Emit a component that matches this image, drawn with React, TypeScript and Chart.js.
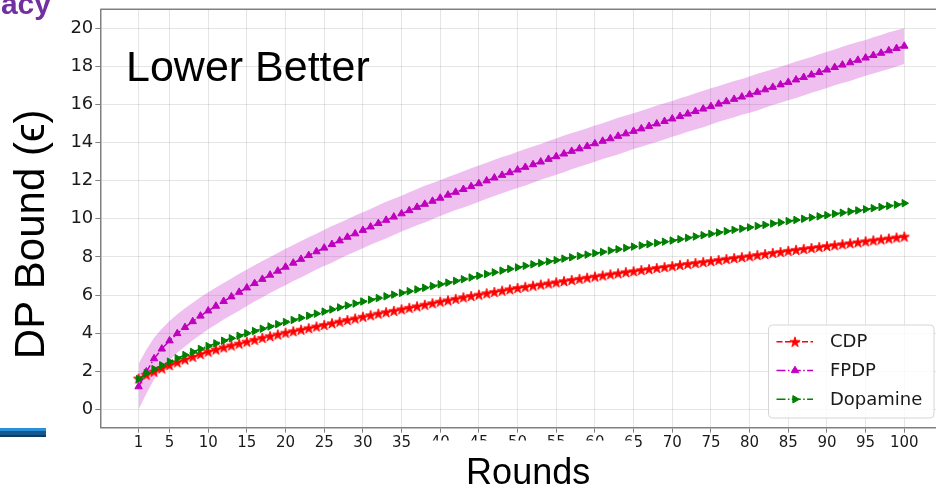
import React, { useEffect, useRef } from 'react';
import { Chart, registerables } from 'chart.js';
import { drawPoint } from 'chart.js/helpers';

Chart.register(...registerables);

// ---------- data ----------
const rounds: number[] = Array.from({ length: 100 }, (_, i) => i + 1);

const xTickValues = [1, 5, 10, 15, 20, 25, 30, 35, 40, 45, 50, 55, 60, 65, 70, 75, 80, 85, 90, 95, 100];
const yTickValues = [0, 2, 4, 6, 8, 10, 12, 14, 16, 18, 20];

const cdp = [
  1.62, 1.82, 1.98, 2.15, 2.32, 2.47, 2.62, 2.76, 2.90, 3.03,
  3.14, 3.25, 3.35, 3.45, 3.55, 3.65, 3.75, 3.84, 3.93, 4.02,
  4.10, 4.18, 4.26, 4.35, 4.43, 4.52, 4.60, 4.69, 4.77, 4.86,
  4.94, 5.02, 5.10, 5.17, 5.25, 5.33, 5.41, 5.49, 5.57, 5.65,
  5.72, 5.80, 5.88, 5.95, 6.02, 6.09, 6.16, 6.23, 6.30, 6.37,
  6.43, 6.49, 6.55, 6.61, 6.67, 6.73, 6.79, 6.85, 6.91, 6.97,
  7.03, 7.09, 7.14, 7.20, 7.25, 7.31, 7.36, 7.42, 7.47, 7.52,
  7.58, 7.63, 7.68, 7.73, 7.78, 7.84, 7.89, 7.94, 7.99, 8.04,
  8.10, 8.15, 8.21, 8.26, 8.32, 8.37, 8.42, 8.47, 8.52, 8.57,
  8.62, 8.67, 8.72, 8.77, 8.82, 8.87, 8.92, 8.97, 9.02, 9.07,
];

const fpdp = [
  1.19, 1.97, 2.66, 3.17, 3.60, 3.98, 4.30, 4.61, 4.90, 5.17,
  5.42, 5.67, 5.91, 6.15, 6.38, 6.61, 6.83, 7.05, 7.26, 7.47,
  7.68, 7.88, 8.08, 8.28, 8.47, 8.66, 8.85, 9.04, 9.22, 9.40,
  9.58, 9.76, 9.93, 10.10, 10.27, 10.44, 10.61, 10.77, 10.93, 11.09,
  11.25, 11.40, 11.55, 11.70, 11.85, 12.00, 12.15, 12.29, 12.43, 12.57,
  12.71, 12.85, 12.99, 13.13, 13.27, 13.41, 13.55, 13.68, 13.81, 13.95,
  14.08, 14.21, 14.34, 14.47, 14.60, 14.73, 14.86, 14.99, 15.12, 15.25,
  15.38, 15.51, 15.64, 15.77, 15.90, 16.03, 16.16, 16.28, 16.40, 16.52,
  16.65, 16.78, 16.91, 17.04, 17.17, 17.30, 17.43, 17.56, 17.69, 17.82,
  17.95, 18.08, 18.20, 18.33, 18.45, 18.58, 18.70, 18.83, 18.95, 19.07,
];

const fpdpStd = [
  1.20, 1.15, 1.10, 1.06, 1.03, 1.01, 1.00, 0.99, 0.98, 0.97,
  0.97, 0.96, 0.96, 0.97, 0.96, 0.95, 0.96, 0.95, 0.95, 0.96,
  0.95, 0.96, 0.95, 0.94, 0.95, 0.96, 0.95, 0.94, 0.95, 0.95,
  0.94, 0.95, 0.96, 0.95, 0.94, 0.95, 0.95, 0.96, 0.95, 0.94,
  0.95, 0.94, 0.95, 0.96, 0.95, 0.94, 0.95, 0.95, 0.94, 0.95,
  0.96, 0.95, 0.94, 0.95, 0.95, 0.96, 0.95, 0.94, 0.95, 0.95,
  0.94, 0.95, 0.96, 0.95, 0.94, 0.95, 0.95, 0.96, 0.95, 0.94,
  0.95, 0.94, 0.95, 0.96, 0.95, 0.94, 0.95, 0.95, 0.94, 0.95,
  0.96, 0.95, 0.94, 0.95, 0.95, 0.96, 0.95, 0.94, 0.95, 0.95,
  0.94, 0.95, 0.96, 0.95, 0.94, 0.95, 0.95, 0.96, 0.95, 0.94,
];

const dopamine = [
  1.59, 1.90, 2.11, 2.31, 2.50, 2.68, 2.85, 3.01, 3.17, 3.32,
  3.46, 3.60, 3.73, 3.86, 3.99, 4.11, 4.23, 4.35, 4.47, 4.58,
  4.69, 4.80, 4.91, 5.02, 5.13, 5.24, 5.35, 5.45, 5.55, 5.66,
  5.75, 5.84, 5.93, 6.02, 6.11, 6.20, 6.29, 6.38, 6.47, 6.56,
  6.65, 6.74, 6.83, 6.92, 7.01, 7.10, 7.19, 7.28, 7.37, 7.45,
  7.53, 7.61, 7.68, 7.76, 7.83, 7.91, 7.98, 8.05, 8.12, 8.19,
  8.26, 8.33, 8.40, 8.47, 8.54, 8.60, 8.67, 8.73, 8.80, 8.86,
  8.93, 9.00, 9.07, 9.14, 9.21, 9.28, 9.35, 9.42, 9.48, 9.55,
  9.62, 9.68, 9.75, 9.81, 9.88, 9.94, 10.00, 10.07, 10.13, 10.19,
  10.26, 10.32, 10.38, 10.44, 10.50, 10.56, 10.62, 10.68, 10.74, 10.82,
];

const RED = '#ff0000';
const MAGENTA = '#bf00bf';
const GREEN = '#008000';

function makeStar(color: string, outer: number): HTMLCanvasElement {
  const inner = outer * 0.382;
  const size = Math.ceil(outer * 2 + 3);
  const c = document.createElement('canvas');
  c.width = size;
  c.height = size;
  const g = c.getContext('2d')!;
  g.fillStyle = color;
  g.strokeStyle = color;
  g.lineWidth = 0.9;
  g.beginPath();
  const cx = size / 2;
  const cy = size / 2 + outer * 0.1;
  for (let k = 0; k < 10; k++) {
    const a = -Math.PI / 2 + (k * Math.PI) / 5;
    const r = k % 2 === 0 ? outer : inner;
    g.lineTo(cx + r * Math.cos(a), cy + r * Math.sin(a));
  }
  g.closePath();
  g.fill();
  g.stroke();
  return c;
}

const frameAndTextPlugin = {
  id: 'frameAndText',
  afterDraw(chart: any) {
    const { ctx, chartArea } = chart;
    ctx.save();
    // top spine
    ctx.strokeStyle = '#808080';
    ctx.lineWidth = 1.5;
    ctx.beginPath();
    ctx.moveTo(chartArea.left, chartArea.top);
    ctx.lineTo(chartArea.right, chartArea.top);
    ctx.stroke();

    // white text box of the x title, which hides the lower part of some tick labels
    ctx.fillStyle = '#ffffff';
    ctx.fillRect(428, 440.5, 208, 52);
    chart.scales.x.drawTitle();

    // annotation
    ctx.fillStyle = '#000';
    ctx.font = '43px "Liberation Sans", Arial, sans-serif';
    ctx.textBaseline = 'alphabetic';
    ctx.textAlign = 'left';
    ctx.fillText('Lower Better', 126, 80.5);

    // legend
    const items = chart.data.datasets.filter((d: any) => d.showInLegend);
    const bx = 768.5, by = 325, bw = 165.5, bh = 93;
    ctx.beginPath();
    const r = 4;
    ctx.moveTo(bx + r, by);
    ctx.lineTo(bx + bw - r, by);
    ctx.quadraticCurveTo(bx + bw, by, bx + bw, by + r);
    ctx.lineTo(bx + bw, by + bh - r);
    ctx.quadraticCurveTo(bx + bw, by + bh, bx + bw - r, by + bh);
    ctx.lineTo(bx + r, by + bh);
    ctx.quadraticCurveTo(bx, by + bh, bx, by + bh - r);
    ctx.lineTo(bx, by + r);
    ctx.quadraticCurveTo(bx, by, bx + r, by);
    ctx.closePath();
    ctx.fillStyle = 'rgba(255,255,255,0.8)';
    ctx.fill();
    ctx.strokeStyle = '#d6d6d6';
    ctx.lineWidth = 1;
    ctx.stroke();

    items.forEach((d: any, i: number) => {
      const y = 341.7 + i * 28.8;
      ctx.save();
      ctx.strokeStyle = d.borderColor;
      ctx.lineWidth = d.borderWidth;
      ctx.setLineDash(d.borderDash || []);
      ctx.beginPath();
      ctx.moveTo(776.5, y);
      ctx.lineTo(813, y);
      ctx.stroke();
      ctx.setLineDash([]);
      ctx.fillStyle = d.pointBackgroundColor;
      ctx.strokeStyle = d.pointBorderColor;
      ctx.lineWidth = d.pointBorderWidth;
      drawPoint(ctx, {
        pointStyle: d.pointStyle,
        rotation: d.pointRotation || 0,
        radius: d.pointRadius,
        borderWidth: d.pointBorderWidth,
      }, 795, y);
      ctx.restore();
      ctx.fillStyle = '#1a1a1a';
      ctx.font = '18px "DejaVu Sans", sans-serif';
      ctx.textBaseline = 'middle';
      ctx.textAlign = 'left';
      ctx.fillText(d.label, 830, y + 1);
    });
    ctx.restore();
  },
};

export default function App() {
  const ref = useRef<HTMLCanvasElement>(null);

  useEffect(() => {
    const star = makeStar(RED, 5.4);
    const pts = (vals: number[]) => rounds.map((r, i) => ({ x: r, y: vals[i] }));
    const upper = rounds.map((r, i) => ({ x: r, y: fpdp[i] + fpdpStd[i] }));
    const lower = rounds.map((r, i) => ({ x: r, y: fpdp[i] - fpdpStd[i] }));

    const tickFont = { family: '"DejaVu Sans", sans-serif', size: 18 };

    const chart = new Chart(ref.current!, {
      type: 'line',
      data: {
        datasets: [
          {
            label: 'FPDP upper',
            data: upper,
            borderColor: 'rgba(0,0,0,0)',
            borderWidth: 0,
            pointRadius: 0,
            fill: false,
            order: 10,
          } as any,
          {
            label: 'FPDP lower',
            data: lower,
            borderColor: 'rgba(0,0,0,0)',
            borderWidth: 0,
            pointRadius: 0,
            backgroundColor: 'rgba(191,0,191,0.25)',
            fill: '-1',
            order: 9,
          },
          {
            label: 'CDP',
            showInLegend: true,
            data: pts(cdp),
            borderColor: RED,
            borderWidth: 1.5,
            borderDash: [6, 2.5],
            pointStyle: star,
            pointRadius: 5,
            pointBackgroundColor: RED,
            pointBorderColor: RED,
            pointBorderWidth: 1,
            fill: false,
            order: 3,
          },
          {
            label: 'FPDP',
            showInLegend: true,
            data: pts(fpdp),
            borderColor: MAGENTA,
            borderWidth: 1.5,
            borderDash: [9, 2.4, 1.5, 2.4],
            pointStyle: 'triangle',
            pointRadius: 4.3,
            pointBackgroundColor: MAGENTA,
            pointBorderColor: MAGENTA,
            pointBorderWidth: 1,
            fill: false,
            order: 2,
          },
          {
            label: 'Dopamine',
            showInLegend: true,
            data: pts(dopamine),
            borderColor: GREEN,
            borderWidth: 1.5,
            borderDash: [9, 2.4, 1.5, 2.4],
            pointStyle: 'triangle',
            pointRotation: 90,
            pointRadius: 4.3,
            pointBackgroundColor: GREEN,
            pointBorderColor: GREEN,
            pointBorderWidth: 1,
            fill: false,
            order: 1,
          },
        ] as any,
      },
      options: {
        animation: false,
        responsive: false,
        devicePixelRatio: 1,
        layout: { autoPadding: false, padding: { top: 9.3, right: 0, bottom: 0, left: 0 } },
        plugins: {
          legend: { display: false },
          tooltip: { enabled: false },
          title: { display: false },
        },
        scales: {
          x: {
            type: 'linear',
            min: -3.95,
            max: 104.1,
            afterBuildTicks: (s: any) => {
              s.ticks = xTickValues.map((v) => ({ value: v }));
            },
            afterFit: (s: any) => {
              s.height = 64.3;
              s.paddingLeft = 0;
              s.paddingRight = 0;
            },
            ticks: {
              autoSkip: false,
              maxRotation: 0,
              minRotation: 0,
              padding: 1,
              color: '#1a1a1a',
              font: { family: '"DejaVu Sans", sans-serif', size: 15 },
              callback: (v: any) => String(v),
            },
            grid: { color: 'rgba(0,0,0,0.1)', lineWidth: 1, tickLength: 5, tickColor: '#808080' },
            border: { display: true, color: '#808080', width: 1.5 },
            title: {
              display: true,
              text: '  Rounds',
              color: '#000',
              font: { family: '"Liberation Sans", Arial, sans-serif', size: 36, lineHeight: 1 },
              padding: { top: 0, bottom: 0 },
            },
          },
          y: {
            type: 'linear',
            min: -0.966,
            max: 21.0,
            afterBuildTicks: (s: any) => {
              s.ticks = yTickValues.map((v) => ({ value: v }));
            },
            afterFit: (s: any) => {
              s.width = 100.3;
              s.paddingTop = 0;
              s.paddingBottom = 0;
            },
            ticks: {
              padding: 2,
              color: '#1a1a1a',
              font: tickFont,
              callback: (v: any) => String(v),
            },
            grid: { color: 'rgba(0,0,0,0.1)', lineWidth: 1, tickLength: 5, tickColor: '#808080' },
            border: { display: true, color: '#808080', width: 1.5 },
            title: {
              display: true,
              text: 'DP Bound (\u03F5)  \u2009',
              color: '#000',
              font: { family: '"Liberation Sans", "DejaVu Sans", sans-serif', size: 42, lineHeight: 1 },
              padding: { top: 11, bottom: 0 },
            },
          },
        },
      } as any,
      plugins: [frameAndTextPlugin],
    });
    return () => chart.destroy();
  }, []);

  return (
    <div
      style={{
        position: 'fixed',
        left: 0,
        top: 0,
        width: 936,
        height: 492,
        overflow: 'hidden',
        background: '#fff',
      }}
    >
      <canvas
        ref={ref}
        width={936}
        height={492}
        style={{ position: 'absolute', left: 0, top: 0, width: 936, height: 492 }}
      />
      <div
        style={{
          position: 'absolute',
          right: 885,
          top: -11,
          font: 'bold 30px "Liberation Sans", Arial, sans-serif',
          lineHeight: '30px',
          color: '#7030a0',
          whiteSpace: 'nowrap',
        }}
      >
        acy
      </div>
      <div
        style={{
          position: 'absolute',
          left: 0,
          top: 428,
          width: 46,
          height: 9,
          background: 'linear-gradient(#2a8fd6 0 35%, #15578f 35% 78%, #0d3b66 78%)',
        }}
      />
    </div>
  );
}
